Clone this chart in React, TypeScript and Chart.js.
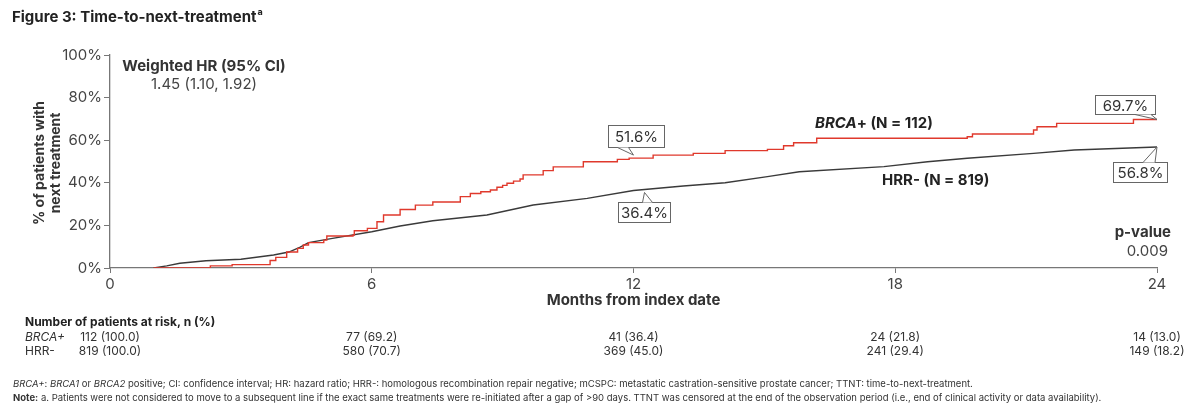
import React, { useEffect, useRef } from "react";
import { Chart, registerables } from "chart.js";

Chart.register(...registerables);

// ---- Data ----
const brcaMonths = [1.0, 2.3, 2.8, 3.67, 3.8, 4.05, 4.3, 4.43, 4.55, 4.9, 4.97, 5.57, 5.6, 5.9, 6.12, 6.27, 6.65, 7.0, 7.4, 8.03, 8.26, 8.5, 8.72, 8.87, 9.0, 9.1, 9.25, 9.4, 9.47, 9.93, 10.16, 10.85, 11.63, 11.9, 12.45, 13.37, 14.1, 15.07, 15.44, 15.67, 16.2, 19.65, 19.77, 21.17, 21.25, 21.7, 23.46, 24.0];
const brcaPct = [0, 1.0, 1.6, 3.5, 5.0, 7.5, 9.2, 10.8, 11.9, 13.1, 15.0, 15.5, 17.5, 18.6, 21.7, 24.9, 27.5, 29.5, 31.0, 33.5, 35.0, 35.8, 36.6, 37.9, 38.8, 39.8, 40.8, 41.8, 43.7, 45.7, 47.5, 49.9, 51.0, 51.6, 53.0, 53.8, 55.1, 55.7, 57.4, 58.8, 60.9, 61.6, 62.9, 64.8, 66.3, 67.9, 69.7, 69.7];

const hrrMonths = [1.0, 1.3, 1.6, 2.2, 3.0, 3.75, 4.1, 4.36, 4.55, 5.1, 6.0, 6.65, 7.4, 8.64, 9.7, 10.94, 12.0, 13.14, 14.1, 15.07, 15.8, 17.74, 18.74, 19.65, 21.17, 22.1, 24.0];
const hrrPct = [0, 1.0, 2.2, 3.4, 4.1, 6.1, 7.5, 9.8, 11.9, 13.9, 17.0, 19.7, 22.2, 24.9, 29.6, 32.7, 36.4, 38.5, 40.0, 42.9, 45.2, 47.6, 49.9, 51.5, 53.8, 55.4, 56.8];

const xTickStep = 6;
const yTickStep = 20;

const riskMonths = [0, 6, 12, 18, 24];
const brcaAtRisk = [112, 77, 41, 24, 14];
const brcaAtRiskPct = ["100.0", "69.2", "36.4", "21.8", "13.0"];
const hrrAtRisk = [819, 580, 369, 241, 149];
const hrrAtRiskPct = ["100.0", "70.7", "45.0", "29.4", "18.2"];

const calloutMonths = [12, 12, 24, 24];
const calloutValues = [51.6, 36.4, 69.7, 56.8];

const hrText = "1.45 (1.10, 1.92)";
const pValue = "0.009";

// ---- Styles ----
const FONT = "Inter, 'Noto Sans', Arial, sans-serif";
const RED = "#e0392c";
const BLACK = "#3a3a3a";
const AXIS = "#777777";
const TEXT = "#333333";

type Run = { t: string; f: string };
function drawRuns(ctx: CanvasRenderingContext2D, runs: Run[], x: number, y: number, align: "left" | "center" = "left") {
  let total = 0;
  for (const r of runs) { ctx.font = r.f; total += ctx.measureText(r.t).width; }
  let cx = align === "center" ? x - total / 2 : x;
  ctx.textAlign = "left";
  for (const r of runs) {
    ctx.font = r.f;
    ctx.fillText(r.t, cx, y);
    cx += ctx.measureText(r.t).width;
  }
}

const annotPlugin = {
  id: "annot",
  afterDraw(chart: any) {
    const ctx: CanvasRenderingContext2D = chart.ctx;
    const xs = chart.scales.x;
    const ys = chart.scales.y;
    ctx.save();
    ctx.textBaseline = "middle";
    ctx.fillStyle = "#222";

    // Title
    ctx.font = `bold 15px ${FONT}`;
    ctx.textAlign = "left";
    const title = "Figure 3: Time-to-next-treatment";
    ctx.fillText(title, 12, 17);
    const tw = ctx.measureText(title).width;
    ctx.font = `bold 9px ${FONT}`;
    ctx.fillText("a", 12 + tw + 1, 12);

    // Y axis title
    ctx.fillStyle = TEXT;
    ctx.save();
    ctx.translate(40, 163);
    ctx.rotate(-Math.PI / 2);
    ctx.font = `bold 14px ${FONT}`;
    ctx.textAlign = "center";
    ctx.fillText("% of patients with", 0, 0);
    ctx.fillText("next treatment", 0, 16);
    ctx.restore();

    // X axis title
    ctx.font = `bold 15px ${FONT}`;
    ctx.textAlign = "center";
    ctx.fillText("Months from index date", (xs.left + xs.right) / 2, 300);

    // HR annotation
    ctx.font = `bold 15px ${FONT}`;
    ctx.fillText("Weighted HR (95% CI)", 204, 66);
    ctx.font = `15px ${FONT}`;
    ctx.fillStyle = "#444";
    ctx.fillText(hrText, 204, 84);

    // p-value
    ctx.fillStyle = TEXT;
    ctx.textAlign = "right";
    ctx.font = `bold 15px ${FONT}`;
    ctx.fillText("p-value", 1171, 232);
    ctx.font = `15px ${FONT}`;
    ctx.fillStyle = "#444";
    ctx.fillText(pValue, 1168, 251);

    // Series labels
    ctx.fillStyle = "#222";
    drawRuns(ctx, [
      { t: "BRCA", f: `italic bold 15px ${FONT}` },
      { t: "+ (N = 112)", f: `bold 15px ${FONT}` },
    ], 815, 123);
    drawRuns(ctx, [{ t: "HRR- (N = 819)", f: `bold 15px ${FONT}` }], 882, 180);

    // Callouts
    const specs = [
      { bx: -26, by: -33, bw: 56, bh: 22, t1: [-16, 0], t2: [-5, 0], tip: [0, -3], base: "bottom" },
      { bx: -16, by: 12, bw: 52, bh: 20, t1: [9, 0], t2: [19, 0], tip: [11, 2], base: "top" },
      { bx: -62, by: -25, bw: 60, bh: 19, t1: [-22, 0], t2: [-6, 0], tip: [0, 0], base: "bottom" },
      { bx: -44, by: 15, bw: 54, bh: 20, t1: [-14, 0], t2: [-2, 0], tip: [0, 0], base: "top" },
    ];
    for (let i = 0; i < calloutValues.length; i++) {
      const ax = xs.getPixelForValue(calloutMonths[i]);
      const ay = ys.getPixelForValue(calloutValues[i]);
      const s = specs[i];
      const left = Math.round(ax + s.bx) + 0.5;
      const top = Math.round(ay + s.by) + 0.5;
      const baseY = s.base === "bottom" ? top + s.bh : top;
      ctx.fillStyle = "#ffffff";
      ctx.strokeStyle = "#666";
      ctx.lineWidth = 1;
      ctx.fillRect(left, top, s.bw, s.bh);
      ctx.strokeRect(left, top, s.bw, s.bh);
      // tail
      ctx.beginPath();
      ctx.moveTo(ax + s.t1[0], baseY);
      ctx.lineTo(ax + s.tip[0], ay + s.tip[1]);
      ctx.lineTo(ax + s.t2[0], baseY);
      ctx.closePath();
      ctx.fill();
      ctx.beginPath();
      ctx.moveTo(ax + s.t1[0], baseY);
      ctx.lineTo(ax + s.tip[0], ay + s.tip[1]);
      ctx.lineTo(ax + s.t2[0], baseY);
      ctx.stroke();
      ctx.fillStyle = TEXT;
      ctx.font = `15px ${FONT}`;
      ctx.textAlign = "center";
      ctx.fillText(calloutValues[i].toFixed(1) + "%", left + s.bw / 2, top + s.bh / 2 + 1);
    }

    // Risk table
    ctx.fillStyle = "#222";
    ctx.textAlign = "left";
    ctx.font = `bold 12px ${FONT}`;
    ctx.fillText("Number of patients at risk, n (%)", 25, 322);
    ctx.fillStyle = "#333";
    ctx.font = `italic 12px ${FONT}`;
    ctx.fillText("BRCA+", 25, 337);
    ctx.font = `12px ${FONT}`;
    ctx.fillText("HRR-", 25, 351);
    ctx.textAlign = "center";
    for (let i = 0; i < riskMonths.length; i++) {
      const px = xs.getPixelForValue(riskMonths[i]);
      ctx.fillText(`${brcaAtRisk[i]} (${brcaAtRiskPct[i]})`, px, 337);
      ctx.fillText(`${hrrAtRisk[i]} (${hrrAtRiskPct[i]})`, px, 351);
    }

    // Footnotes
    ctx.fillStyle = "#333";
    const fs = 9.5;
    drawRuns(ctx, [
      { t: "BRCA+", f: `italic ${fs}px ${FONT}` },
      { t: ": ", f: `${fs}px ${FONT}` },
      { t: "BRCA1", f: `italic ${fs}px ${FONT}` },
      { t: " or ", f: `${fs}px ${FONT}` },
      { t: "BRCA2", f: `italic ${fs}px ${FONT}` },
      { t: " positive; CI: confidence interval; HR: hazard ratio; HRR-: homologous recombination repair negative; mCSPC: metastatic castration-sensitive prostate cancer; TTNT: time-to-next-treatment.", f: `${fs}px ${FONT}` },
    ], 13, 384);
    drawRuns(ctx, [
      { t: "Note:", f: `bold ${fs}px ${FONT}` },
      { t: " a. Patients were not considered to move to a subsequent line if the exact same treatments were re-initiated after a gap of >90 days. TTNT was censored at the end of the observation period (i.e., end of clinical activity or data availability).", f: `${fs}px ${FONT}` },
    ], 13, 398);

    ctx.restore();
  },
};

export default function App() {
  const ref = useRef<HTMLCanvasElement>(null);
  useEffect(() => {
    if (!ref.current) return;
    const chart = new Chart(ref.current, {
      type: "line",
      data: {
        datasets: [
          {
            label: "BRCA+",
            data: brcaMonths.map((m, i) => ({ x: m, y: brcaPct[i] })),
            borderColor: RED,
            borderWidth: 1.4,
            stepped: "before",
            pointRadius: 0,
            fill: false,
          },
          {
            label: "HRR-",
            data: hrrMonths.map((m, i) => ({ x: m, y: hrrPct[i] })),
            borderColor: BLACK,
            borderWidth: 1.4,
            tension: 0,
            pointRadius: 0,
            fill: false,
          },
        ],
      },
      options: {
        animation: false,
        responsive: false,
        devicePixelRatio: 1,
        layout: { padding: { left: 0, top: 55, right: 43, bottom: 114 } },
        plugins: { legend: { display: false }, tooltip: { enabled: false } },
        scales: {
          x: {
            type: "linear",
            min: 0,
            max: 24,
            ticks: { stepSize: xTickStep, color: "#444", font: { family: FONT, size: 15 }, padding: 2, maxRotation: 0 },
            grid: { display: true, drawOnChartArea: false, drawTicks: true, tickLength: 5, color: AXIS },
            border: { display: true, color: AXIS, width: 1.3 },
            afterFit: (s: any) => { s.height = 30; },
          },
          y: {
            type: "linear",
            min: 0,
            max: 100,
            ticks: { stepSize: yTickStep, color: "#444", font: { family: FONT, size: 15 }, padding: 2, callback: (v: any) => `${v}%` },
            grid: { display: true, drawOnChartArea: false, drawTicks: true, tickLength: 6, color: AXIS },
            border: { display: true, color: AXIS, width: 1.3 },
            afterFit: (s: any) => { s.width = 110; },
          },
        },
      },
      plugins: [annotPlugin],
    } as any);
    return () => chart.destroy();
  }, []);
  return (
    <div style={{ position: "absolute", left: 0, top: 0, width: 1200, height: 412, background: "#fff" }}>
      <canvas ref={ref} width={1200} height={412} style={{ width: 1200, height: 412, display: "block" }} />
    </div>
  );
}
